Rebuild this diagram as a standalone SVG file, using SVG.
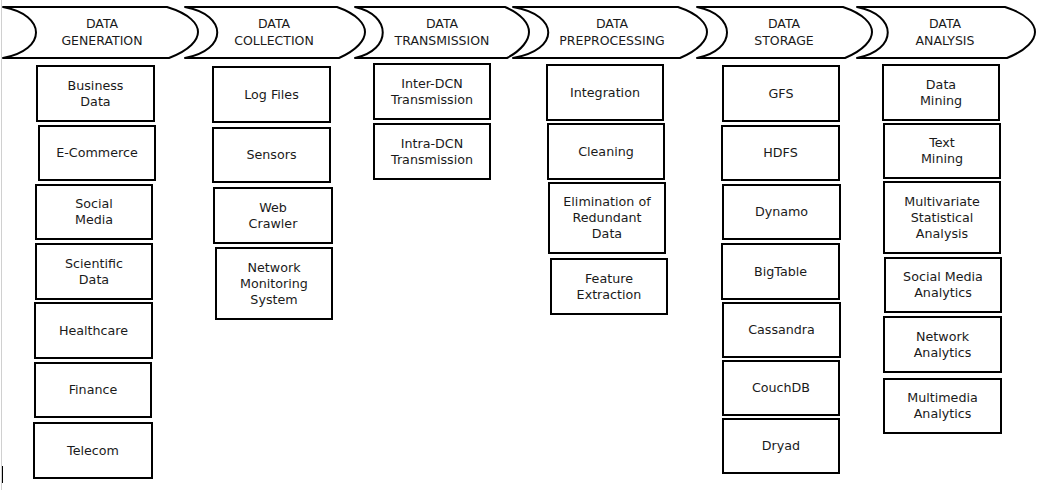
<svg xmlns="http://www.w3.org/2000/svg" width="1045" height="490" viewBox="0 0 1045 490">
<style>
.chev{fill:#fff;stroke:#000;stroke-width:2;stroke-linejoin:round}
.b{fill:#fff;stroke:#000;stroke-width:2}
.h{font-family:"DejaVu Sans","Liberation Sans",sans-serif;font-size:12.5px;fill:#1a1a1a;text-anchor:middle}
.t{font-family:"DejaVu Sans","Liberation Sans",sans-serif;font-size:12.7px;fill:#1a1a1a;text-anchor:middle}
</style>
<rect x="0" y="0" width="1045" height="490" fill="#fff"/>
<line x1="1.5" y1="0" x2="1.5" y2="490" stroke="#d0d0d0" stroke-width="1"/>
<line x1="2.5" y1="466" x2="2.5" y2="483" stroke="#000" stroke-width="1"/>

<g id="stage-generation">
<path class="chev" d="M3,7 L167,7 C190,14 198,24 198,32 C198,40 190,50 169,58 L3,58 C47,50 47,15 3,7 Z"/>
<text class="h"><tspan x="102" y="28">DATA</tspan><tspan x="102" y="45">GENERATION</tspan></text>
</g>
<g id="stage-collection">
<path class="chev" d="M185,7 L337,7 C357,14 365,24 365,32 C365,40 357,50 339,58 L185,58 C228,50 228,15 185,7 Z"/>
<text class="h"><tspan x="274" y="28">DATA</tspan><tspan x="274" y="45">COLLECTION</tspan></text>
</g>
<g id="stage-transmission">
<path class="chev" d="M355,7 L505,7 C522,14 529,24 529,32 C529,40 522,50 507,58 L355,58 C392,50 392,15 355,7 Z"/>
<text class="h"><tspan x="442" y="28">DATA</tspan><tspan x="442" y="45">TRANSMISSION</tspan></text>
</g>
<g id="stage-preprocessing">
<path class="chev" d="M513,7 L678,7 C699,14 707,24 707,32 C707,40 699,50 680,58 L513,58 C560,50 560,15 513,7 Z"/>
<text class="h"><tspan x="612" y="28">DATA</tspan><tspan x="612" y="45">PREPROCESSING</tspan></text>
</g>
<g id="stage-storage">
<path class="chev" d="M697,7 L843,7 C864,14 872,24 872,32 C872,40 864,50 845,58 L697,58 C737,50 737,15 697,7 Z"/>
<text class="h"><tspan x="784" y="28">DATA</tspan><tspan x="784" y="45">STORAGE</tspan></text>
</g>
<g id="stage-analysis">
<path class="chev" d="M857,7 L1005,7 C1027,14 1035,24 1035,32 C1035,40 1027,50 1007,58 L857,58 C898,50 898,15 857,7 Z"/>
<text class="h"><tspan x="945" y="28">DATA</tspan><tspan x="945" y="45">ANALYSIS</tspan></text>
</g>

<g id="connectors"></g>

<g id="business-data"><rect class="b" x="37" y="66" width="117" height="55"/><text class="t"><tspan x="95.5" y="89.5">Business</tspan><tspan x="95.5" y="105.5">Data</tspan></text></g>
<g id="e-commerce"><rect class="b" x="39" y="126" width="116" height="54"/><text class="t" x="97" y="157">E-Commerce</text></g>
<g id="social-media"><rect class="b" x="36" y="185" width="116" height="54"/><text class="t"><tspan x="94" y="208">Social</tspan><tspan x="94" y="224">Media</tspan></text></g>
<g id="scientific-data"><rect class="b" x="36" y="244" width="116" height="55"/><text class="t"><tspan x="94" y="267.5">Scientific</tspan><tspan x="94" y="283.5">Data</tspan></text></g>
<g id="healthcare"><rect class="b" x="35" y="303" width="117" height="55"/><text class="t" x="93.5" y="334.5">Healthcare</text></g>
<g id="finance"><rect class="b" x="35" y="363" width="116" height="54"/><text class="t" x="93" y="394">Finance</text></g>
<g id="telecom"><rect class="b" x="34" y="423" width="118" height="55"/><text class="t" x="93" y="454.5">Telecom</text></g>

<g id="log-files"><rect class="b" x="213" y="67" width="117" height="55"/><text class="t" x="271.5" y="98.5">Log Files</text></g>
<g id="sensors"><rect class="b" x="213" y="128" width="117" height="54"/><text class="t" x="271.5" y="159">Sensors</text></g>
<g id="web-crawler"><rect class="b" x="214" y="188" width="118" height="55"/><text class="t"><tspan x="273" y="211.5">Web</tspan><tspan x="273" y="227.5">Crawler</tspan></text></g>
<g id="network-monitoring"><rect class="b" x="216" y="248" width="116" height="71"/><text class="t"><tspan x="274" y="271.5">Network</tspan><tspan x="274" y="287.5">Monitoring</tspan><tspan x="274" y="303.5">System</tspan></text></g>

<g id="inter-dcn"><rect class="b" x="374" y="64" width="116" height="55"/><text class="t"><tspan x="432" y="87.5">Inter-DCN</tspan><tspan x="432" y="103.5">Transmission</tspan></text></g>
<g id="intra-dcn"><rect class="b" x="374" y="124" width="116" height="55"/><text class="t"><tspan x="432" y="147.5">Intra-DCN</tspan><tspan x="432" y="163.5">Transmission</tspan></text></g>

<g id="integration"><rect class="b" x="547" y="65" width="116" height="55"/><text class="t" x="605" y="96.5">Integration</text></g>
<g id="cleaning"><rect class="b" x="548" y="124" width="116" height="55"/><text class="t" x="606" y="155.5">Cleaning</text></g>
<g id="elimination"><rect class="b" x="549" y="183" width="116" height="70"/><text class="t"><tspan x="607" y="206">Elimination of</tspan><tspan x="607" y="222">Redundant</tspan><tspan x="607" y="238">Data</tspan></text></g>
<g id="feature-extraction"><rect class="b" x="551" y="259" width="116" height="55"/><text class="t"><tspan x="609" y="282.5">Feature</tspan><tspan x="609" y="298.5">Extraction</tspan></text></g>

<g id="gfs"><rect class="b" x="723" y="66" width="116" height="55"/><text class="t" x="781" y="97.5">GFS</text></g>
<g id="hdfs"><rect class="b" x="722" y="126" width="117" height="54"/><text class="t" x="780.5" y="157">HDFS</text></g>
<g id="dynamo"><rect class="b" x="723" y="185" width="117" height="54"/><text class="t" x="781.5" y="216">Dynamo</text></g>
<g id="bigtable"><rect class="b" x="722" y="244" width="117" height="55"/><text class="t" x="780.5" y="275.5">BigTable</text></g>
<g id="cassandra"><rect class="b" x="723" y="303" width="117" height="54"/><text class="t" x="781.5" y="334">Cassandra</text></g>
<g id="couchdb"><rect class="b" x="723" y="361" width="116" height="54"/><text class="t" x="781" y="392">CouchDB</text></g>
<g id="dryad"><rect class="b" x="723" y="419" width="116" height="54"/><text class="t" x="781" y="450">Dryad</text></g>

<g id="data-mining"><rect class="b" x="883" y="65" width="116" height="55"/><text class="t"><tspan x="941" y="88.5">Data</tspan><tspan x="941" y="104.5">Mining</tspan></text></g>
<g id="text-mining"><rect class="b" x="884" y="124" width="116" height="54"/><text class="t"><tspan x="942" y="147">Text</tspan><tspan x="942" y="163">Mining</tspan></text></g>
<g id="multivariate"><rect class="b" x="884" y="182" width="116" height="71"/><text class="t"><tspan x="942" y="205.5">Multivariate</tspan><tspan x="942" y="221.5">Statistical</tspan><tspan x="942" y="237.5">Analysis</tspan></text></g>
<g id="social-media-analytics"><rect class="b" x="885" y="258" width="116" height="54"/><text class="t"><tspan x="943" y="281">Social Media</tspan><tspan x="943" y="297">Analytics</tspan></text></g>
<g id="network-analytics"><rect class="b" x="884" y="317" width="117" height="55"/><text class="t"><tspan x="942.5" y="340.5">Network</tspan><tspan x="942.5" y="356.5">Analytics</tspan></text></g>
<g id="multimedia-analytics"><rect class="b" x="884" y="379" width="117" height="54"/><text class="t"><tspan x="942.5" y="402">Multimedia</tspan><tspan x="942.5" y="418">Analytics</tspan></text></g>
</svg>
